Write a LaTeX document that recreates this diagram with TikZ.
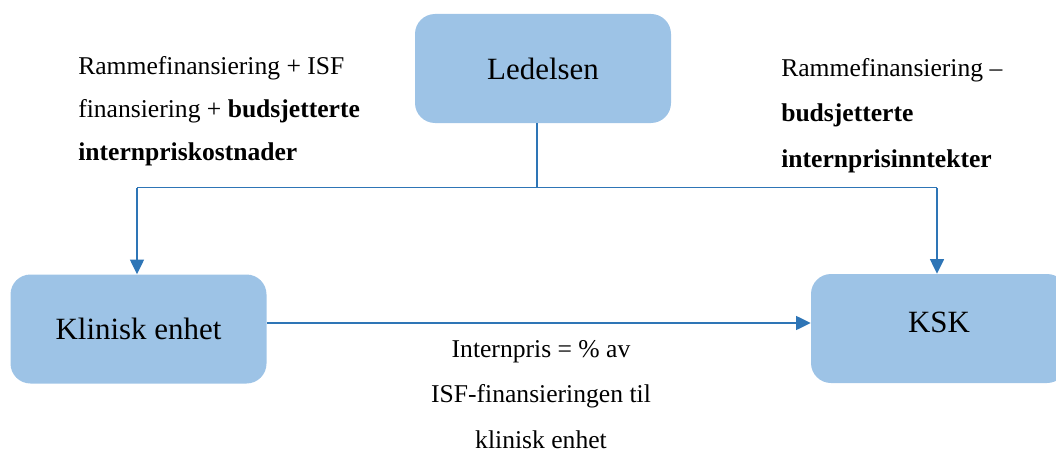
\documentclass[tikz,border=0pt]{standalone}
\usepackage{fontspec}
\setmainfont{Liberation Serif}
\usetikzlibrary{arrows.meta}
\definecolor{boxfill}{HTML}{9DC3E6}
\definecolor{linkblue}{HTML}{2E75B6}
\begin{document}
\begin{tikzpicture}[x=0.75pt,y=-0.75pt,
  unit/.style={rectangle, rounded corners=15pt, fill=boxfill, draw=none,
    minimum width=192pt, minimum height=81.75pt, inner sep=0pt,
    font=\fontsize{23.2}{28}\selectfont},
  link/.style={draw=linkblue, line width=1.1pt},
  flow/.style={link, -{Triangle[length=11pt,width=10.5pt]}},
  note/.style={inner sep=0pt, font=\fontsize{19.2}{33.8}\selectfont}]
\useasboundingbox (0,0) rectangle (1056,453);

% organisational units
\node[unit] (led) at (543,68.5) {Ledelsen};
\node[unit] (kli) at (138.5,329) {Klinisk enhet};
\node[unit, label={[font=\fontsize{23.2}{28}\selectfont, yshift=4.5pt]center:KSK}] (ksk) at (939,328.5) {};

% distribution from management
\coordinate (split) at (537,187.5);
\coordinate (lft) at (137,187.5);
\coordinate (rgt) at (937,187.5);
\draw[link] (led.south -| split) -- (split);
\draw[link] (lft) -- (rgt);
\draw[flow] (lft) -- (lft |- kli.north);
\draw[flow] (rgt) -- (rgt |- ksk.north);

% internal price flow
\draw[flow] (kli.east |- 0,323) -- (ksk.west |- 0,323);

% funding texts (anchored at the baseline of their last line)
\node[note, anchor=base west, align=left, font=\fontsize{19.2}{32}\selectfont] (lnote) at (78,160)
  {Rammefinansiering + ISF\\finansiering + \textbf{budsjetterte}\\\textbf{internpriskostnader}};
\node[note, anchor=base west, align=left] (rnote) at (781,167)
  {Rammefinansiering --\\\textbf{budsjetterte}\\\textbf{internprisinntekter}};
\node[note, anchor=base, align=center] (pnote) at (541,448)
  {Internpris = \% av\\ISF-finansieringen til\\klinisk enhet};
\end{tikzpicture}
\end{document}
